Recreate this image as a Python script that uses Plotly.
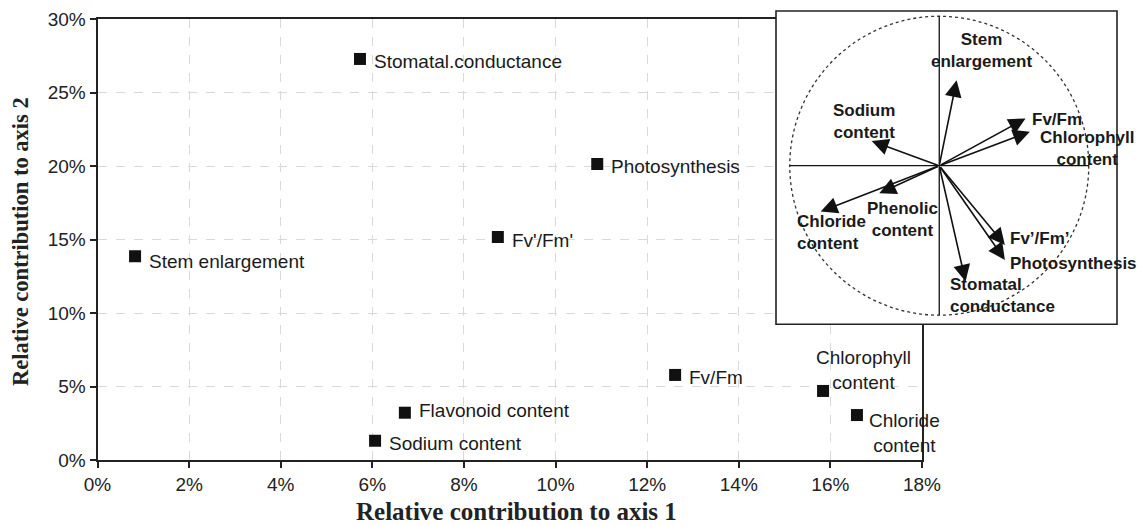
import plotly.graph_objects as go

# ---- main scatter data (percent) ----
names = ["Stomatal.conductance", "Stem enlargement", "Photosynthesis", "Fv'/Fm'",
         "Fv/Fm", "Flavonoid content", "Sodium content",
         "Chlorophyll<br>content", "Chloride<br>content"]
axis1 = [5.73, 0.82, 10.91, 8.74, 12.61, 6.71, 6.06, 15.84, 16.58]
axis2 = [27.3, 13.87, 20.15, 15.18, 5.79, 3.22, 1.31, 4.70, 3.06]
label_dx = [12, 12, 12, 12, 12, 12, 12, 40, 48]
label_dy = [-3, -5, -3, -3, -3, 2, -3, 21, -18]
label_anchor = ["left"] * 7 + ["center", "center"]

xticks = [0, 2, 4, 6, 8, 10, 12, 14, 16, 18]
yticks = [0, 5, 10, 15, 20, 25, 30]

# ---- inset correlation circle (loadings) ----
vars_in = ["Stem enlargement", "Sodium content", "Fv/Fm", "Chlorophyll content",
           "Chloride content", "Phenolic content", "Fv’/Fm’", "Photosynthesis",
           "Stomatal conductance"]
load1 = [0.116, -0.452, 0.577, 0.606, -0.793, -0.401, 0.439, 0.439, 0.176]
load2 = [0.572, 0.165, 0.316, 0.227, -0.307, -0.185, -0.530, -0.630, -0.775]
in_labels = ["Stem<br>enlargement", "Sodium<br>content", "Fv/Fm", "Chlorophyll<br>content",
             "Chloride<br>content", "Phenolic<br>content", "Fv’/Fm’", "Photosynthesis",
             "Stomatal<br>conductance"]
in_lx = [0.284, -0.504, 0.607, 0.988, -0.966, -0.243, 0.459, 0.459, 0.058]
in_ly = [0.771, 0.294, 0.312, 0.118, -0.447, -0.363, -0.484, -0.653, -0.865]
in_anchor = ["center", "center", "left", "center", "left", "center", "left", "left", "left"]

W, H = 1142, 526
FONT = "Liberation Sans, Arial, sans-serif"
SERIF = "Liberation Serif, Times New Roman, serif"

fig = go.Figure()
fig.add_trace(go.Scatter(
    x=axis1, y=axis2, mode="markers",
    marker=dict(symbol="square", size=12, color="#111111", line=dict(width=0)),
    showlegend=False, hoverinfo="skip", cliponaxis=False,
))
# empty trace to register inset subplot
fig.add_trace(go.Scatter(x=[0], y=[0], mode="markers", marker=dict(size=0.1, opacity=0),
                         xaxis="x2", yaxis="y2", showlegend=False, hoverinfo="skip"))

annotations = []
for n, x, y, dx, dy, a in zip(names, axis1, axis2, label_dx, label_dy, label_anchor):
    annotations.append(dict(
        x=x, y=y, xref="x", yref="y", text=n, showarrow=False,
        xanchor=a, yanchor="middle", xshift=dx, yshift=dy, align="center",
        font=dict(family=FONT, size=19, color="#1a1a1a"),
    ))

# inset arrows
for vx, vy in zip(load1, load2):
    annotations.append(dict(
        x=vx, y=vy, xref="x2", yref="y2", ax=0, ay=0, axref="x2", ayref="y2",
        text="", showarrow=True, arrowhead=2, arrowsize=2.1, arrowwidth=1.6,
        arrowcolor="#111111", standoff=0,
    ))
for t, lx, ly, a in zip(in_labels, in_lx, in_ly, in_anchor):
    annotations.append(dict(
        x=lx, y=ly, xref="x2", yref="y2", text="<b>" + t + "</b>", showarrow=False,
        xanchor=a, yanchor="middle", align=a if a != "center" else "center",
        font=dict(family=FONT, size=17, color="#1a1a1a"),
    ))

# axis titles
annotations.append(dict(
    x=516 / W, y=(H - 511) / H, xref="paper", yref="paper", showarrow=False,
    text="<b>Relative contribution to axis 1</b>", xanchor="center", yanchor="middle",
    font=dict(family=SERIF, size=25, color="#222222"),
))
annotations.append(dict(
    x=20 / W, y=(H - 242) / H, xref="paper", yref="paper", showarrow=False,
    text="<b>Relative contribution to axis 2</b>", xanchor="center", yanchor="middle",
    textangle=-90, font=dict(family=SERIF, size=22.5, color="#222222"),
))

shapes = [
    dict(type="rect", xref="x2 domain", yref="y2 domain", x0=0, x1=1, y0=0, y1=1,
         fillcolor="white", line=dict(color="#222222", width=1.6), layer="above"),
    dict(type="circle", xref="x2", yref="y2", x0=-1, x1=1, y0=-1, y1=1,
         line=dict(color="#333333", width=1.3, dash="dot"), layer="above"),
    dict(type="line", xref="x2", yref="y2", x0=-1, x1=1, y0=0, y1=0,
         line=dict(color="#111111", width=1.3), layer="above"),
    dict(type="line", xref="x2", yref="y2", x0=0, x1=0, y0=-1, y1=1,
         line=dict(color="#111111", width=1.3), layer="above"),
]

fig.update_layout(
    width=W, height=H, margin=dict(l=0, r=0, t=0, b=0),
    paper_bgcolor="white", plot_bgcolor="white",
    font=dict(family=FONT, size=19, color="#222222"),
    xaxis=dict(
        domain=[97.5 / W, 922 / W], range=[0, 18], tickvals=xticks,
        ticktext=[f"{v}%" for v in xticks], showgrid=True, gridcolor="#d9d9d9",
        griddash="dash", gridwidth=1, zeroline=False, showline=True,
        linecolor="#222222", linewidth=2, mirror=True, ticks="outside", ticklen=6,
        tickcolor="#222222", tickwidth=1.5, tickfont=dict(size=19, color="#222222"),
        automargin=False, anchor="y", fixedrange=True,
    ),
    yaxis=dict(
        domain=[(H - 460) / H, (H - 19.3) / H], range=[0, 30], tickvals=yticks,
        ticktext=[f"{v}%" for v in yticks], showgrid=True, gridcolor="#d9d9d9",
        griddash="dash", gridwidth=1, zeroline=False, showline=True,
        linecolor="#222222", linewidth=2, mirror=True, ticks="outside", ticklen=6,
        tickcolor="#222222", tickwidth=1.5, tickfont=dict(size=19, color="#222222"),
        automargin=False, anchor="x", fixedrange=True,
    ),
    xaxis2=dict(
        domain=[776 / W, 1117 / W], range=[-1.092, 1.189], anchor="y2",
        showgrid=False, zeroline=False, showline=False, showticklabels=False,
        ticks="", fixedrange=True,
    ),
    yaxis2=dict(
        domain=[(H - 324.3) / H, (H - 11) / H], range=[-1.061, 1.035], anchor="x2",
        showgrid=False, zeroline=False, showline=False, showticklabels=False,
        ticks="", fixedrange=True,
    ),
    annotations=annotations,
    shapes=shapes,
)

fig.write_html("out.html")
